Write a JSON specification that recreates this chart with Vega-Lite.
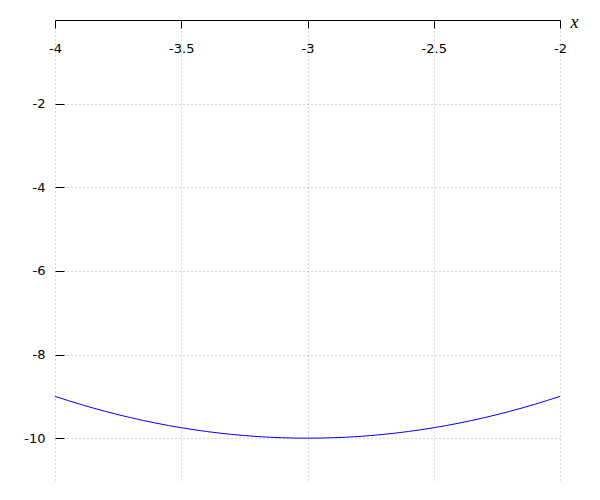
{
  "$schema": "https://vega.github.io/schema/vega-lite/v6.json",
  "width": 505,
  "height": 460,
  "autosize": "none",
  "padding": {"left": 55, "top": 20, "right": 40, "bottom": 20},
  "background": "white",
  "config": {"view": {"stroke": null}},
  "data": {"values": [
    {"x": -4.0, "y": -9.0},
    {"x": -3.9, "y": -9.19},
    {"x": -3.8, "y": -9.36},
    {"x": -3.7, "y": -9.51},
    {"x": -3.6, "y": -9.64},
    {"x": -3.5, "y": -9.75},
    {"x": -3.4, "y": -9.84},
    {"x": -3.3, "y": -9.91},
    {"x": -3.2, "y": -9.96},
    {"x": -3.1, "y": -9.99},
    {"x": -3.0, "y": -10.0},
    {"x": -2.9, "y": -9.99},
    {"x": -2.8, "y": -9.96},
    {"x": -2.7, "y": -9.91},
    {"x": -2.6, "y": -9.84},
    {"x": -2.5, "y": -9.75},
    {"x": -2.4, "y": -9.64},
    {"x": -2.3, "y": -9.51},
    {"x": -2.2, "y": -9.36},
    {"x": -2.1, "y": -9.19},
    {"x": -2.0, "y": -9.0}
  ]},
  "resolve": {"axis": {"x": "independent", "y": "independent"}},
  "layer": [
    {
      "mark": {"type": "line", "opacity": 0},
      "encoding": {
        "x": {"field": "x", "type": "quantitative", "scale": {"domain": [-4, -2], "nice": false, "zero": false},
          "axis": {"orient": "top", "grid": true, "gridColor": "#b0b0b0", "gridDash": [1, 3], "gridWidth": 1, "labels": false, "ticks": false, "domain": false, "title": null, "values": [-4, -3.5, -3, -2.5, -2]}},
        "y": {"field": "y", "type": "quantitative", "scale": {"domain": [-11, 0], "nice": false, "zero": false},
          "axis": {"orient": "left", "grid": true, "gridColor": "#b0b0b0", "gridDash": [1, 3], "gridWidth": 1, "labels": false, "ticks": true, "tickSize": -9, "tickColor": "black", "domain": false, "title": null, "values": [-10, -8, -6, -4, -2]}}
      }
    },
    {
      "mark": {"type": "line", "color": "#0000ff", "strokeWidth": 1, "interpolate": "monotone"},
      "encoding": {
        "x": {"field": "x", "type": "quantitative", "scale": {"domain": [-4, -2], "nice": false, "zero": false},
          "axis": {"orient": "bottom", "offset": -460, "grid": false, "domain": true, "domainColor": "black", "ticks": true, "tickSize": 8, "tickColor": "black", "labelPadding": 14, "labelFont": "DejaVu Sans", "labelFontSize": 13, "labelColor": "black", "values": [-4, -3.5, -3, -2.5, -2], "labelFlush": false, "labelOverlap": false, "labelExpr": "'' + datum.value",
            "title": "x", "titleFont": "Liberation Serif", "titleFontStyle": "italic", "titleFontWeight": "normal", "titleFontSize": 18, "titleColor": "black", "titleX": 515, "titleY": 7, "titleAlign": "left", "titleBaseline": "alphabetic", "titleAnchor": null}},
        "y": {"field": "y", "type": "quantitative", "scale": {"domain": [-11, 0], "nice": false, "zero": false},
          "axis": {"orient": "left", "grid": false, "domain": false, "ticks": false, "labelPadding": 10, "labelFont": "DejaVu Sans", "labelFontSize": 13, "labelColor": "black", "values": [-10, -8, -6, -4, -2], "labelExpr": "'' + datum.value", "title": null}}
      }
    }
  ]
}
